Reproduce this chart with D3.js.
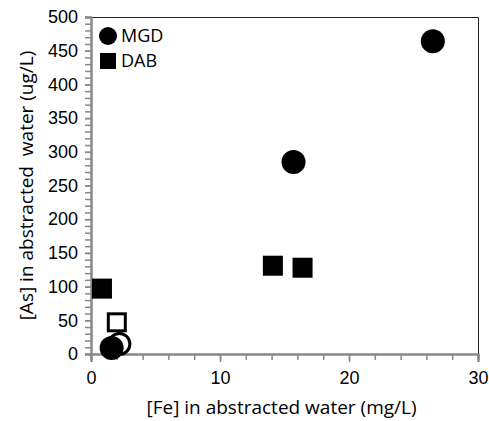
<!DOCTYPE html>
<html>
<head>
<meta charset="utf-8">
<script src="https://cdn.jsdelivr.net/npm/d3@7"></script>
<style>
  body { margin: 0; background: #fff; }
  svg { font-family: "Open Sans", sans-serif; }
</style>
</head>
<body>
<svg id="chart" width="489" height="421"></svg>
<script>
// ===== Data =====
const mgdFe = [26.5, 15.7, 1.6];
const mgdAs = [464, 285, 9];
const mgdOpenFe = [2.2];
const mgdOpenAs = [15];
const dabFe = [0.85, 14.1, 16.4];
const dabAs = [97, 131, 128];
const dabOpenFe = [2.0];
const dabOpenAs = [47];
const xTicks = [0, 10, 20, 30];
const yTicks = [0, 50, 100, 150, 200, 250, 300, 350, 400, 450, 500];
const legendLabels = ["MGD", "DAB"];

// ===== Layout =====
const W = 489, H = 421;
const margin = { top: 17, right: 11, bottom: 67, left: 91 };
const svg = d3.select("#chart");
const g = svg.append("g").attr("transform", `translate(${margin.left},${margin.top})`);
const iw = W - margin.left - margin.right;
const ih = H - margin.top - margin.bottom;

const x = d3.scaleLinear().domain([0, 30]).range([0, iw]);
const y = d3.scaleLinear().domain([0, 500]).range([ih, 0]);

const axisColor = "#888";

// frame top/right
g.append("path")
  .attr("d", `M0,0.5H${iw + 0.5}V${ih}`)
  .attr("fill", "none")
  .attr("stroke", "#222")
  .attr("stroke-width", 1);

// minor ticks
const xMinor = g.append("g").attr("transform", `translate(0,${ih})`)
  .call(d3.axisBottom(x).tickValues(d3.range(0, 31, 2)).tickSize(6).tickFormat(""));
const yMinor = g.append("g")
  .call(d3.axisLeft(y).tickValues(d3.range(0, 501, 10)).tickSize(6).tickFormat(""));

// major ticks with labels
const xAxis = g.append("g").attr("transform", `translate(0,${ih})`)
  .call(d3.axisBottom(x).tickValues(xTicks).tickSize(8).tickPadding(9));
const yAxis = g.append("g")
  .call(d3.axisLeft(y).tickValues(yTicks).tickSize(6).tickPadding(7));

[xMinor, yMinor, xAxis, yAxis].forEach(a => {
  a.selectAll(".domain").attr("stroke", axisColor).attr("stroke-width", 2);
  a.selectAll(".tick line").attr("stroke", axisColor).attr("stroke-width", 1.5);
});
[xAxis, yAxis].forEach(a => {
  a.selectAll(".tick text").attr("fill", "#000").style("font-size", "18px");
});

// ===== Markers =====
const R = 12, S = 20;
function circles(fe, as, open) {
  g.selectAll(null)
    .data(fe.map((d, i) => [d, as[i]]))
    .enter()
    .append("circle")
    .attr("cx", d => x(d[0]))
    .attr("cy", d => y(d[1]))
    .attr("r", open ? R - 1.5 : R)
    .attr("fill", open ? "#fff" : "#000")
    .attr("stroke", "#000")
    .attr("stroke-width", open ? 3 : 0);
}
function squares(fe, as, open) {
  const s = open ? S - 3 : S;
  g.selectAll(null)
    .data(fe.map((d, i) => [d, as[i]]))
    .enter()
    .append("rect")
    .attr("x", d => x(d[0]) - s / 2)
    .attr("y", d => y(d[1]) - s / 2)
    .attr("width", s)
    .attr("height", s)
    .attr("fill", open ? "#fff" : "#000")
    .attr("stroke", "#000")
    .attr("stroke-width", open ? 3 : 0);
}
squares(dabFe, dabAs, false);
squares(dabOpenFe, dabOpenAs, true);
circles(mgdOpenFe, mgdOpenAs, true);
circles(mgdFe, mgdAs, false);

// ===== Legend =====
const leg = svg.append("g");
leg.append("circle").attr("cx", 108).attr("cy", 36).attr("r", 9).attr("fill", "#000");
leg.append("rect").attr("x", 100).attr("y", 53).attr("width", 16).attr("height", 16).attr("fill", "#000");
leg.selectAll("text")
  .data(legendLabels)
  .enter()
  .append("text")
  .attr("x", 121)
  .attr("y", (d, i) => 42 + i * 25)
  .style("font-size", "18px")
  .text(d => d);

// ===== Axis titles =====
svg.append("text")
  .attr("x", margin.left + iw / 2 - 3)
  .attr("y", 414)
  .attr("text-anchor", "middle")
  .style("font-size", "19px")
  .text("[Fe] in abstracted water (mg/L)");

svg.append("text")
  .attr("transform", `translate(33,${margin.top + ih / 2}) rotate(-90)`)
  .attr("text-anchor", "middle")
  .style("font-size", "19px")
  .style("white-space", "pre")
  .text("[As] in abstracted  water (ug/L)");
</script>
</body>
</html>
